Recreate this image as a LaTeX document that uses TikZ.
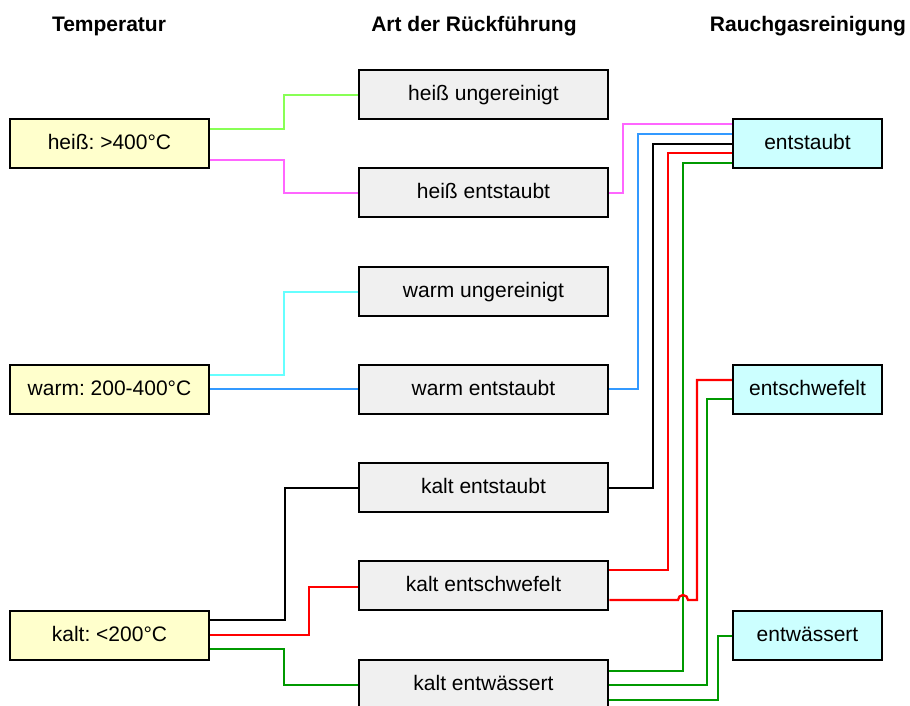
\documentclass[tikz,border=0pt]{standalone}
\usepackage{fontspec}
\setmainfont{Liberation Sans}
\frenchspacing
\usetikzlibrary{backgrounds}
\definecolor{lgreen}{HTML}{88FF55}
\definecolor{lmag}{HTML}{FF66FF}
\definecolor{lcyan}{HTML}{66FFFF}
\definecolor{lblue}{HTML}{3399FF}
\definecolor{dgreen}{HTML}{009900}
\definecolor{fyellow}{HTML}{FFFFCC}
\definecolor{fgray}{HTML}{F0F0F0}
\definecolor{fcyan}{HTML}{CCFFFF}
\tikzset{
  box/.style={draw=black, line width=2.5pt, rectangle, inner sep=0pt,
    minimum height=49pt, text height=15.5pt, text depth=4pt,
    font=\fontsize{21}{25}\selectfont\frenchspacing},
  tempbox/.style={box, fill=fyellow, minimum width=199pt},
  artbox/.style={box, fill=fgray, minimum width=249pt},
  rgbox/.style={box, fill=fcyan, minimum width=149pt},
  hdr/.style={anchor=base, inner sep=0pt, font=\fontsize{21}{25}\selectfont\bfseries},
  conn/.style={line width=2.3pt},
}
\begin{document}
\begin{tikzpicture}[x=1pt, y=-1pt]
\useasboundingbox (0,0) rectangle (910,705);
% headers
\node[hdr] (h1) at (109,31) {Temperatur};
\node[hdr] (h2) at (474,31) {Art der Rückführung};
\node[hdr] (h3) at (808,31) {Rauchgasreinigung};
% left
\node[tempbox] (hot) at (109.5,143.5) {heiß: >400°C};
\node[tempbox] (warm) at (109.5,389.5) {warm: 200-400°C};
\node[tempbox] (kalt) at (109.5,635.5) {kalt: <200°C};
% middle
\node[artbox] (hu) at (483.5,94.5) {heiß ungereinigt};
\node[artbox] (he) at (483.5,192.5) {heiß entstaubt};
\node[artbox] (wu) at (483.5,291.5) {warm ungereinigt};
\node[artbox] (we) at (483.5,389.5) {warm entstaubt};
\node[artbox] (ke) at (483.5,487.5) {kalt entstaubt};
\node[artbox] (ks) at (483.5,585.5) {kalt entschwefelt};
\node[artbox] (kw) at (483.5,684.5) {kalt entwässert};
% right
\node[rgbox] (rs) at (807.5,143.5) {entstaubt};
\node[rgbox] (rsw) at (807.5,389.5) {entschwefelt};
\node[rgbox] (rwa) at (807.5,635.5) {entwässert};
\begin{pgfonlayer}{background}
\fill[white] (0,0) rectangle (910,705);
% left connectors
\draw[conn, lgreen] (hot.east |- 0,129) -- (284,129) |- (hu.west |- 0,95);
\draw[conn, lmag] (hot.east |- 0,160) -- (284,160) |- (he.west |- 0,193);
\draw[conn, lcyan] (warm.east |- 0,375) -- (284,375) |- (wu.west |- 0,292);
\draw[conn, lblue] (warm.east |- 0,389) -- (we.west |- 0,389);
\draw[conn, black] (kalt.east |- 0,620) -- (285,620) |- (ke.west |- 0,488);
\draw[conn, red] (kalt.east |- 0,635) -- (309,635) |- (ks.west |- 0,587);
\draw[conn, dgreen] (kalt.east |- 0,649) -- (284,649) |- (kw.west |- 0,685);
% right connectors
\draw[conn, lmag] (he.east |- 0,193) -- (623,193) |- (rs.west |- 0,124);
\draw[conn, lblue] (we.east |- 0,389) -- (638,389) |- (rs.west |- 0,134);
\draw[conn, black] (ke.east |- 0,488) -- (653,488) |- (rs.west |- 0,144);
\draw[conn, red] (ks.east |- 0,570) -- (668,570) |- (rs.west |- 0,153);
\draw[conn, dgreen] (kw.east |- 0,671) -- (683,671) |- (rs.west |- 0,163);
\draw[conn, red] (ks.east |- 0,600) -- (678,600) arc[start angle=180, end angle=0, radius=5pt] -- (697,600) |- (rsw.west |- 0,380);
\draw[conn, dgreen] (kw.east |- 0,685) -- (707,685) |- (rsw.west |- 0,399);
\draw[conn, dgreen] (kw.east |- 0,700) -- (718,700) |- (rwa.west |- 0,636);
\end{pgfonlayer}
\end{tikzpicture}
\end{document}
